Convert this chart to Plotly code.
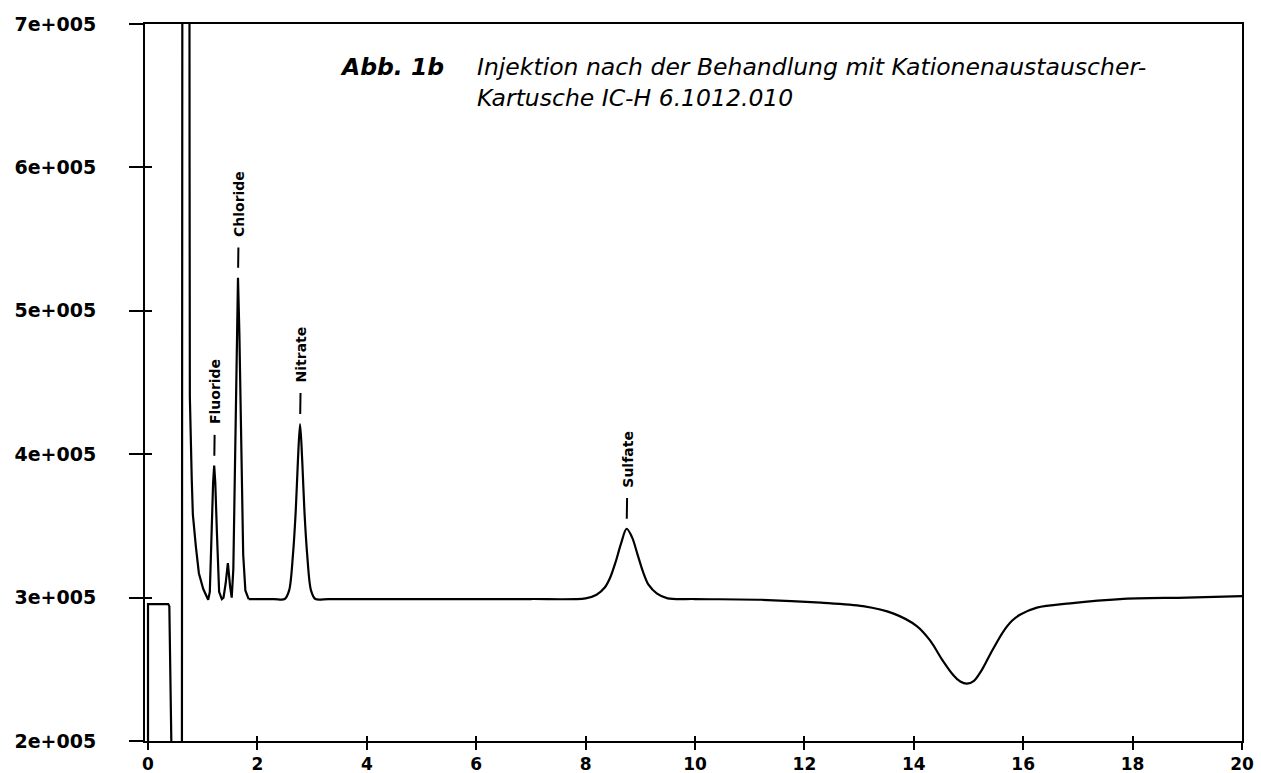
import plotly.graph_objects as go

# ---- data ----
# early part (injection, Fluoride, small peak, Chloride) - sharp features
early_time = [0.0, 0.0, 0.37, 0.39, 0.43, 0.62, 0.63, 0.755, 0.76, 0.765, 0.80, 0.82, 0.875, 0.93, 1.01,
              1.10, 1.13, 1.16, 1.19, 1.21, 1.23, 1.26, 1.30, 1.35,
              1.38, 1.42, 1.46, 1.50, 1.53,
              1.56, 1.59, 1.62, 1.645, 1.67, 1.70, 1.74, 1.78, 1.84]
early_signal = [1.9e5, 2.955e5, 2.955e5, 2.94e5, 1.9e5, 1.9e5, 9.0e5, 9.0e5, 6.0e5, 4.4e5, 3.82e5, 3.58e5, 3.355e5, 3.17e5, 3.06e5,
                2.985e5, 3.04e5, 3.45e5, 3.80e5, 3.92e5, 3.80e5, 3.45e5, 3.04e5, 2.99e5,
                3.00e5, 3.10e5, 3.24e5, 3.08e5, 3.00e5,
                3.20e5, 4.00e5, 4.80e5, 5.23e5, 4.85e5, 4.05e5, 3.30e5, 3.05e5, 2.99e5]

# later part (Nitrate, Sulfate, negative dip) - smooth features
late_time = [1.84, 2.30, 2.50, 2.58, 2.65, 2.70, 2.74, 2.78, 2.82, 2.86, 2.91, 2.98, 3.06, 3.30,
             4.0, 5.0, 6.0, 7.0, 8.0, 8.20, 8.35, 8.45, 8.55, 8.65, 8.75, 8.85, 8.95, 9.05, 9.15, 9.30, 9.50,
             10.0, 11.2, 12.3, 13.07, 13.62, 14.06, 14.30, 14.53, 14.72, 14.85, 14.97, 15.10, 15.25, 15.39,
             15.63, 15.80, 15.94, 16.25, 16.86, 17.77, 18.99, 20.0]
late_signal = [2.99e5, 2.99e5, 2.99e5, 3.05e5, 3.30e5, 3.60e5, 3.95e5, 4.21e5, 3.95e5, 3.60e5, 3.30e5, 3.05e5, 2.99e5, 2.99e5,
               2.99e5, 2.99e5, 2.99e5, 2.99e5, 2.995e5, 3.02e5, 3.07e5, 3.14e5, 3.25e5, 3.38e5, 3.48e5, 3.42e5, 3.30e5, 3.18e5, 3.09e5, 3.03e5, 2.995e5,
               2.99e5, 2.985e5, 2.965e5, 2.94e5, 2.89e5, 2.80e5, 2.70e5, 2.56e5, 2.46e5, 2.415e5, 2.40e5, 2.42e5, 2.50e5, 2.60e5,
               2.76e5, 2.84e5, 2.88e5, 2.93e5, 2.96e5, 2.99e5, 3.00e5, 3.01e5]

peak_names = ["Fluoride", "Chloride", "Nitrate", "Sulfate"]
peak_times = [1.21, 1.645, 2.78, 8.75]
peak_heights = [3.92e5, 5.23e5, 4.21e5, 3.48e5]

x_tickvals = [0, 2, 4, 6, 8, 10, 12, 14, 16, 18, 20]
x_ticktext = ["0", "2", "4", "6", "8", "10", "12", "14", "16", "18", "20"]
y_tickvals = [2e5, 3e5, 4e5, 5e5, 6e5, 7e5]
y_ticktext = ["2e+005", "3e+005", "4e+005", "5e+005", "6e+005", "7e+005"]

title_bold = "Abb. 1b"
title_lines = ["Injektion nach der Behandlung mit Kationenaustauscher-",
               "Kartusche IC-H 6.1012.010"]

x_range = [-0.055, 20]
y_range = [2e5, 7e5]

fig = go.Figure()
fig.add_trace(go.Scatter(x=early_time, y=early_signal, mode="lines",
                         line=dict(color="black", width=2.2),
                         showlegend=False, hoverinfo="skip"))
fig.add_trace(go.Scatter(x=late_time, y=late_signal, mode="lines",
                         line=dict(color="black", width=2.2, shape="spline", smoothing=0.9),
                         showlegend=False, hoverinfo="skip"))
# empty trace to create overlay axes (inner halves of crossing ticks)
fig.add_trace(go.Scatter(x=[None], y=[None], xaxis="x2", yaxis="y2",
                         showlegend=False, hoverinfo="skip"))

fig.update_layout(
    width=1261, height=773,
    margin=dict(l=145, r=19, t=24, b=32, autoexpand=False),
    paper_bgcolor="white", plot_bgcolor="white",
    xaxis=dict(range=x_range, tickvals=x_tickvals, ticktext=x_ticktext,
               ticks="outside", ticklen=7, tickwidth=2, tickcolor="black",
               showline=True, linewidth=2, linecolor="black", mirror=True,
               showgrid=False, zeroline=False, automargin=False,
               tickfont=dict(family="DejaVu Sans", size=17, color="black", weight="bold")),
    yaxis=dict(range=y_range, tickvals=y_tickvals, ticktext=y_ticktext,
               ticks="outside", ticklen=14, tickwidth=2, tickcolor="black",
               showline=True, linewidth=2, linecolor="black", mirror=True,
               showgrid=False, zeroline=False, ticklabelstandoff=29, automargin=False,
               tickfont=dict(family="DejaVu Sans", size=19, color="black", weight="bold")),
    xaxis2=dict(range=x_range, overlaying="x", anchor="y2", side="bottom",
                tickvals=x_tickvals, ticks="inside", ticklen=5, tickwidth=2, tickcolor="black",
                showticklabels=False, showline=False, showgrid=False, zeroline=False, automargin=False),
    yaxis2=dict(range=y_range, overlaying="y", anchor="x2", side="left",
                tickvals=y_tickvals, ticks="inside", ticklen=7, tickwidth=2, tickcolor="black",
                showticklabels=False, showline=False, showgrid=False, zeroline=False, automargin=False),
)

for name, t, h in zip(peak_names, peak_times, peak_heights):
    fig.add_annotation(x=t, y=h, xref="x", yref="y", text=name, textangle=-90,
                       showarrow=True, arrowhead=0, arrowwidth=2, arrowcolor="black",
                       ax=1, ay=-(41 + 4.1 * len(name)), standoff=10, borderpad=10,
                       font=dict(family="DejaVu Sans", size=14, color="black", weight="bold"))

fig.add_annotation(x=0.2744, y=0.9402, xref="paper", yref="paper", text=title_bold,
                   showarrow=False, xanchor="right", yanchor="middle",
                   font=dict(family="DejaVu Sans", size=23.5, color="black", weight="bold", style="italic"))
fig.add_annotation(x=0.3008, y=0.919, xref="paper", yref="paper", text="<br>".join(title_lines),
                   showarrow=False, xanchor="left", yanchor="middle", align="left",
                   font=dict(family="DejaVu Sans", size=23.5, color="black", style="italic"))

fig.write_html("out.html", config={"displayModeBar": False},
               post_script="document.body.style.margin='0';")
